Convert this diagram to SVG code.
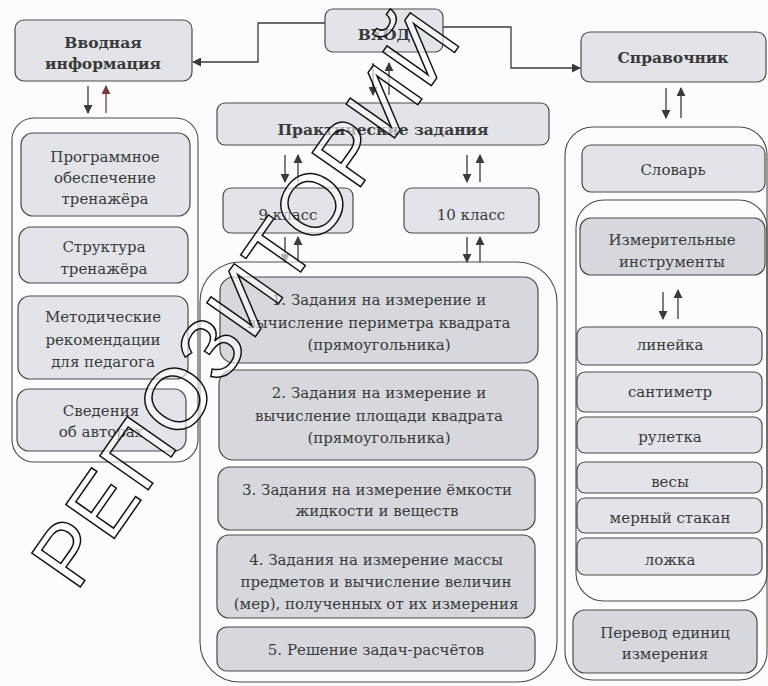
<svg xmlns="http://www.w3.org/2000/svg" width="768" height="686" viewBox="0 0 768 686">
<defs>
<marker id="ah" viewBox="0 0 10 10" refX="9" refY="5" markerWidth="9" markerHeight="9" markerUnits="userSpaceOnUse" orient="auto">
<path d="M0,0 L10,5 L0,10 z" fill="#3a3a3a"/>
</marker>
<marker id="ahr" viewBox="0 0 10 10" refX="9" refY="5" markerWidth="9" markerHeight="9" markerUnits="userSpaceOnUse" orient="auto">
<path d="M0,0 L10,5 L0,10 z" fill="#7a3838"/>
</marker>
<style>
.box{fill:#e2e4e9;stroke:#4a4a4a;stroke-width:1.2}
.dk{fill:#d6d8de;stroke:#4a4a4a;stroke-width:1.2}
.cont{fill:none;stroke:#4a4a4a;stroke-width:1.1}
.t{font-family:"DejaVu Serif","Liberation Serif",serif;font-size:15px;fill:#3a3a3a;text-anchor:middle}
.b{font-weight:bold;font-size:15.5px}
.ar{fill:none;stroke:#3a3a3a;stroke-width:1.3;marker-end:url(#ah)}
.arr{fill:none;stroke:#7a3838;stroke-width:1.3;marker-end:url(#ahr)}
.wm{font-family:"Liberation Sans",Arial,sans-serif;font-size:86px;letter-spacing:2px;fill:#ffffff;fill-opacity:0.6;stroke:#111;stroke-width:1.5;text-anchor:middle}
</style>
</defs>
<rect width="768" height="686" fill="#fcfcfc"/>

<g id="containers">
<rect class="cont" x="12" y="118" width="186" height="344" rx="22"/>
<rect class="cont" x="200" y="262" width="357" height="420" rx="40"/>
<rect class="cont" x="565" y="127" width="202" height="553" rx="28"/>
<rect class="cont" x="576" y="200" width="191" height="401" rx="28"/>
</g>

<g id="connectors">
<path class="ar" d="M325,23 H258 V62 H193"/>
<path class="ar" d="M443,27 H511 V68 H580"/>
<path class="ar" d="M88,86 V113"/>
<path class="arr" d="M106,113 V86"/>
<path class="ar" d="M373,63 V95"/>
<path class="ar" d="M389,95 V63"/>
<path class="ar" d="M666,88 V118"/>
<path class="ar" d="M681,118 V88"/>
<path class="ar" d="M285,155 V182"/>
<path class="ar" d="M298,182 V155"/>
<path class="ar" d="M467,155 V182"/>
<path class="ar" d="M480,182 V155"/>
<path class="ar" d="M285,237 V262"/>
<path class="ar" d="M298,262 V237"/>
<path class="ar" d="M467,237 V262"/>
<path class="ar" d="M480,262 V237"/>
<path class="ar" d="M663,292 V319"/>
<path class="ar" d="M678,319 V290"/>
</g>

<g id="vvodnaya"><rect class="box" x="15" y="20" width="177" height="61" rx="9"/>
<text class="t b" x="103" y="48">Вводная</text><text class="t b" x="103" y="69">информация</text></g>

<g id="vhod"><rect class="box" x="325" y="9" width="118" height="43" rx="8"/>
<text class="t b" x="384" y="40">ВХОД</text></g>

<g id="spravochnik"><rect class="box" x="581" y="32" width="185" height="50" rx="9"/>
<text class="t b" x="673" y="63">Справочник</text></g>

<g id="praktich"><rect class="box" x="217" y="103" width="332" height="42" rx="8"/>
<text class="t b" x="383" y="135">Практические задания</text></g>

<g id="k9"><rect class="box" x="223" y="188" width="130" height="45" rx="8"/>
<text class="t" x="288" y="220">9 класс</text></g>

<g id="k10"><rect class="box" x="404" y="188" width="135" height="45" rx="8"/>
<text class="t" x="471" y="220">10 класс</text></g>

<g id="po"><rect class="box" x="21" y="133" width="169" height="83" rx="12"/>
<text class="t" x="105" y="162">Программное</text><text class="t" x="105" y="183">обеспечение</text><text class="t" x="105" y="204">тренажёра</text></g>

<g id="struct"><rect class="box" x="19" y="227" width="169" height="56" rx="12"/>
<text class="t" x="104" y="252">Структура</text><text class="t" x="104" y="274">тренажёра</text></g>

<g id="metod"><rect class="box" x="18" y="296" width="170" height="83" rx="12"/>
<text class="t" x="103" y="322">Методические</text><text class="t" x="103" y="345">рекомендации</text><text class="t" x="103" y="367">для педагога</text></g>

<g id="avtory"><rect class="box" x="17" y="389" width="169" height="62" rx="12"/>
<text class="t" x="101" y="416">Сведения</text><text class="t" x="101" y="437">об авторах</text></g>

<g id="task1"><rect class="dk" x="220" y="277" width="318" height="86" rx="14"/>
<text class="t" x="379" y="305">1. Задания на измерение и</text><text class="t" x="379" y="328">вычисление периметра квадрата</text><text class="t" x="379" y="350">(прямоугольника)</text></g>

<g id="task2"><rect class="dk" x="219" y="370" width="319" height="90" rx="14"/>
<text class="t" x="379" y="398">2. Задания на измерение и</text><text class="t" x="379" y="421">вычисление площади квадрата</text><text class="t" x="379" y="443">(прямоугольника)</text></g>

<g id="task3"><rect class="dk" x="218" y="467" width="317" height="63" rx="12"/>
<text class="t" x="377" y="495">3. Задания на измерение ёмкости</text><text class="t" x="377" y="516">жидкости и веществ</text></g>

<g id="task4"><rect class="dk" x="217" y="535" width="318" height="83" rx="12"/>
<text class="t" x="376" y="565">4. Задания на измерение массы</text><text class="t" x="376" y="587">предметов и вычисление величин</text><text class="t" x="376" y="609">(мер), полученных от их измерения</text></g>

<g id="task5"><rect class="dk" x="217" y="627" width="318" height="44" rx="10"/>
<text class="t" x="376" y="655">5. Решение задач-расчётов</text></g>

<g id="slovar"><rect class="box" x="582" y="145" width="183" height="47" rx="9"/>
<text class="t" x="673" y="175">Словарь</text></g>

<g id="izmer"><rect class="dk" x="580" y="218" width="185" height="57" rx="11"/>
<text class="t" x="672" y="245">Измерительные</text><text class="t" x="672" y="267">инструменты</text></g>

<g id="lineyka"><rect class="box" x="577" y="327" width="185" height="38" rx="8"/>
<text class="t" x="670" y="350">линейка</text></g>

<g id="santimetr"><rect class="box" x="577" y="372" width="185" height="40" rx="8"/>
<text class="t" x="670" y="397">сантиметр</text></g>

<g id="ruletka"><rect class="box" x="577" y="417" width="185" height="36" rx="8"/>
<text class="t" x="670" y="442">рулетка</text></g>

<g id="vesy"><rect class="box" x="577" y="462" width="185" height="31" rx="8"/>
<text class="t" x="670" y="487">весы</text></g>

<g id="stakan"><rect class="box" x="577" y="498" width="185" height="35" rx="8"/>
<text class="t" x="670" y="523">мерный стакан</text></g>

<g id="lozhka"><rect class="box" x="577" y="538" width="185" height="37" rx="8"/>
<text class="t" x="670" y="565">ложка</text></g>

<g id="perevod"><rect class="dk" x="573" y="610" width="184" height="63" rx="12"/>
<text class="t" x="665" y="638">Перевод единиц</text><text class="t" x="665" y="659">измерения</text></g>

<g id="watermark">
<text class="wm" x="270" y="316" transform="rotate(-55 270 316)">РЕПОЗИТОРИЙ</text>
</g>
</svg>
